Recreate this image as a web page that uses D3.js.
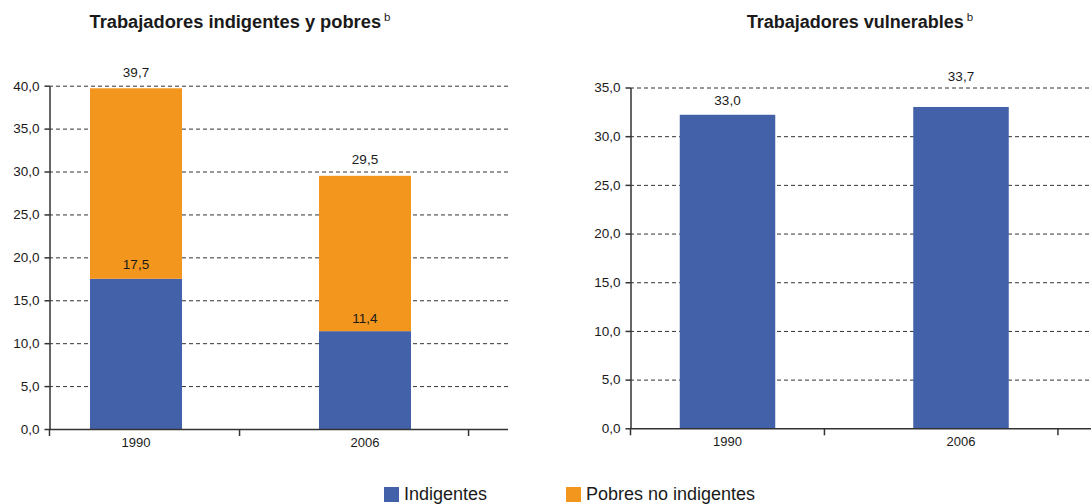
<!DOCTYPE html>
<html><head><meta charset="utf-8">
<script src="https://cdn.jsdelivr.net/npm/d3@7"></script>
<style>
body{margin:0;background:#fff}
svg{display:block}
text{font-family:"Liberation Sans",Arial,Helvetica,sans-serif;fill:#1a1a1a}
</style>
</head><body>
<svg id="c" width="1091" height="504"></svg>
<script>
// ---- data ----
const years = ["1990", "2006"];
const indigentes = [17.5, 11.4];
const pobresNoIndigentes = [22.2, 18.1];
const vulnerables = [32.2, 33.0];
const vulnerablesLabels = ["33,0", "33,7"];
const leftTicks = [0, 5, 10, 15, 20, 25, 30, 35, 40];
const rightTicks = [0, 5, 10, 15, 20, 25, 30, 35];
const seriesNames = ["Indigentes", "Pobres no indigentes"];
const titles = ["Trabajadores indigentes y pobres", "Trabajadores vulnerables"];
const titleNote = "b";

const colors = ["#4361a8", "#f3961e"];
const fmt = d3.formatLocale({decimal: ",", thousands: ".", grouping: [3], currency: ["", ""]}).format(".1f");
const svg = d3.select("#c");

function panel(cfg) {
  const g = svg.append("g");
  const x = d3.scalePoint().domain(years).range(cfg.centers);
  const y = d3.scaleLinear().domain([0, cfg.ticks[cfg.ticks.length - 1]]).range([cfg.y0, cfg.yTop]);

  // grid
  g.selectAll("line.grid").data(cfg.ticks.filter(t => t > 0)).join("line")
    .attr("x1", cfg.axisX).attr("x2", cfg.gridEnd)
    .attr("y1", d => y(d) + 0.5).attr("y2", d => y(d) + 0.5)
    .attr("stroke", "#333").attr("stroke-width", 1).attr("stroke-dasharray", "4,3");

  // bars
  cfg.series.forEach((s, si) => {
    g.selectAll("rect.s" + si).data(years).join("rect")
      .attr("x", d => x(d) - cfg.barW / 2)
      .attr("width", cfg.barW)
      .attr("y", (d, i) => y(s.base[i] + s.values[i]))
      .attr("height", (d, i) => y(s.base[i]) - y(s.base[i] + s.values[i]))
      .attr("fill", s.color);
  });

  // value labels
  cfg.labels.forEach(l => {
    g.selectAll(null).data(years).join("text")
      .attr("x", d => x(d)).attr("y", (d, i) => y(l.at[i]) - l.lift[i])
      .attr("text-anchor", "middle").attr("font-size", 13.5)
      .text((d, i) => l.text[i]);
  });

  // y axis
  const ya = g.append("g").attr("transform", `translate(${cfg.axisX + 0.5},0)`)
    .call(d3.axisLeft(y).tickValues(cfg.ticks).tickSize(5).tickSizeOuter(0).tickPadding(5).tickFormat(fmt));
  ya.select(".domain").attr("stroke", "#333").attr("stroke-width", 1.5);
  ya.selectAll(".tick line").attr("stroke", "#333").attr("stroke-width", 1.5);
  ya.selectAll(".tick text").attr("font-size", 13.5).attr("fill", "#1a1a1a")
    .style("font-family", '"Liberation Sans",Arial,sans-serif');

  // x axis
  g.append("line").attr("x1", cfg.axisX).attr("x2", cfg.gridEnd)
    .attr("y1", y(0) + 0.5).attr("y2", y(0) + 0.5).attr("stroke", "#333").attr("stroke-width", 1.5);
  const step = cfg.centers[1] - cfg.centers[0];
  const xt = [cfg.axisX].concat(years.map(d => x(d) + step * cfg.tickFrac));
  g.selectAll("line.xt").data(xt).join("line")
    .attr("x1", d => d + 0.5).attr("x2", d => d + 0.5)
    .attr("y1", y(0)).attr("y2", y(0) + 7).attr("stroke", "#333").attr("stroke-width", 1.5);
  g.selectAll("text.xl").data(years).join("text")
    .attr("x", d => x(d)).attr("y", y(0) + 18)
    .attr("text-anchor", "middle").attr("font-size", 13).text(d => d);

  // title
  const t = g.append("text").attr("x", cfg.titleX).attr("y", 28).attr("text-anchor", "middle");
  t.append("tspan").attr("font-size", cfg.titleSize).attr("font-weight", "bold").text(cfg.title);
  t.append("tspan").attr("font-size", 11.5).attr("dx", 3).attr("dy", -7).text(titleNote);
}

const totals = indigentes.map((v, i) => v + pobresNoIndigentes[i]);

panel({
  centers: [136, 365], barW: 92, axisX: 49, gridEnd: 508, y0: 429, yTop: 85.7,
  ticks: leftTicks, tickFrac: 0.45, title: titles[0], titleX: 240, titleSize: 18.3,
  series: [
    {values: indigentes, base: [0, 0], color: colors[0]},
    {values: pobresNoIndigentes, base: indigentes, color: colors[1]}
  ],
  labels: [
    {at: totals, text: totals.map(fmt), lift: [11, 12]},
    {at: indigentes, text: indigentes.map(fmt), lift: [10, 8]}
  ]
});

panel({
  centers: [727.5, 961], barW: 95.5, axisX: 630, gridEnd: 1091, y0: 428.3, yTop: 87.5,
  ticks: rightTicks, tickFrac: 0.413, title: titles[1], titleX: 860, titleSize: 18,
  series: [
    {values: vulnerables, base: [0, 0], color: colors[0]}
  ],
  labels: [
    {at: vulnerables, text: vulnerablesLabels, lift: [10, 26]}
  ]
});

// legend
const lg = svg.append("g");
const lx = [384, 566];
seriesNames.forEach((n, i) => {
  lg.append("rect").attr("x", lx[i]).attr("y", 487).attr("width", 15).attr("height", 15).attr("fill", colors[i]);
  lg.append("text").attr("x", lx[i] + 20).attr("y", 499.5).attr("font-size", 18).text(n);
});
</script>
</body></html>
